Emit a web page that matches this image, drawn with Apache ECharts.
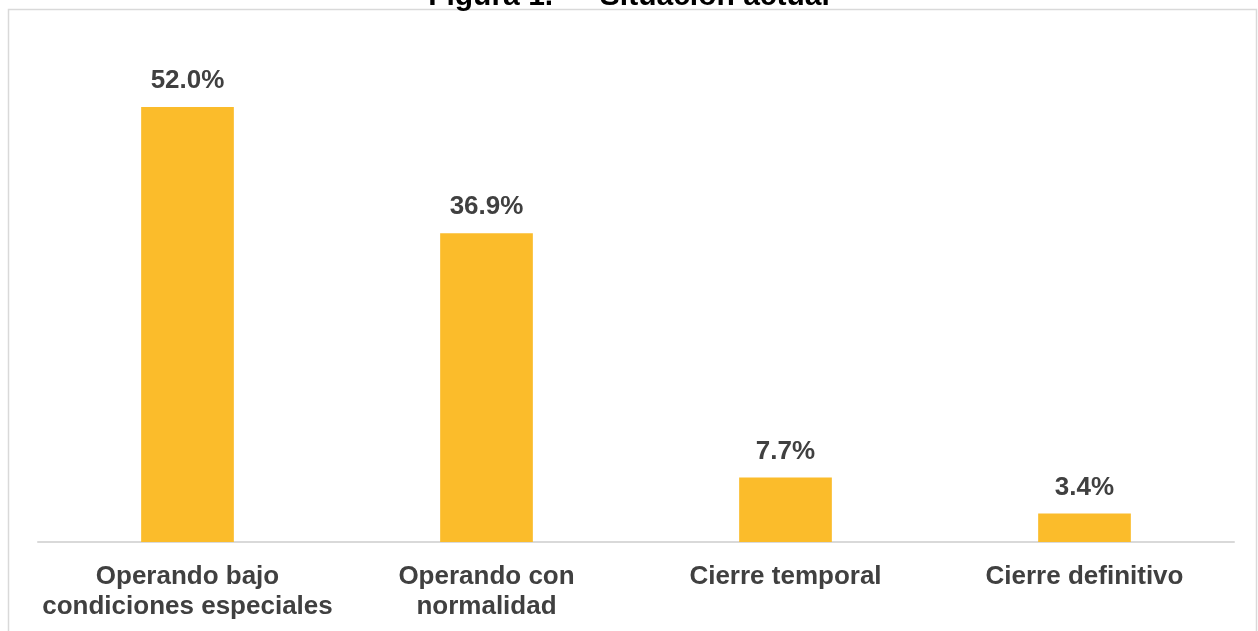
<!doctype html>
<html>
<head>
<meta charset="utf-8">
<title>Situación actual</title>
<script src="https://cdn.jsdelivr.net/npm/echarts@6/dist/echarts.min.js"></script>
<style>
  html, body { margin: 0; padding: 0; background: #fff; }
  #container { width: 1258px; height: 631px; }
</style>
</head>
<body>
<div id="container"></div>
<script>
// datos
var categorias = ['Operando bajo\ncondiciones especiales', 'Operando con\nnormalidad', 'Cierre temporal', 'Cierre definitivo'];
var porcentajes = [52.0, 36.9, 7.7, 3.4];

var myChart = echarts.init(document.getElementById('container'));

var option = {
  backgroundColor: '#ffffff',
  animation: false,
  title: {
    text: 'Figura 1. — Situación actual',
    left: 'center',
    top: -23,
    textStyle: { fontFamily: 'Liberation Sans, Arial', fontSize: 30, fontWeight: 'bold', color: '#000' }
  },
  graphic: [{
    type: 'rect',
    shape: { x: 8.5, y: 9.5, width: 1248, height: 700 },
    style: { fill: 'none', stroke: '#d9d9d9', lineWidth: 1.5 },
    z: -1
  }],
  grid: { left: 38, right: 24, top: 40, bottom: 89 },
  xAxis: {
    type: 'category',
    data: categorias,
    axisTick: { show: false },
    axisLine: { lineStyle: { color: '#d9d9d9', width: 2 } },
    axisLabel: {
      interval: 0,
      margin: 20,
      lineHeight: 30,
      color: '#404040',
      fontFamily: 'Liberation Sans, Arial',
      fontSize: 26,
      fontWeight: 'bold'
    }
  },
  yAxis: {
    type: 'value',
    min: 0,
    max: 60,
    show: false,
    splitLine: { show: false }
  },
  series: [{
    type: 'bar',
    data: porcentajes,
    barWidth: '31%',
    itemStyle: { color: '#FBBC2B' },
    label: {
      show: true,
      position: 'top',
      distance: 13,
      color: '#404040',
      fontFamily: 'Liberation Sans, Arial',
      fontSize: 26,
      fontWeight: 'bold',
      formatter: function (p) { return p.value.toFixed(1) + '%'; }
    }
  }]
};

myChart.setOption(option);
</script>
</body>
</html>
